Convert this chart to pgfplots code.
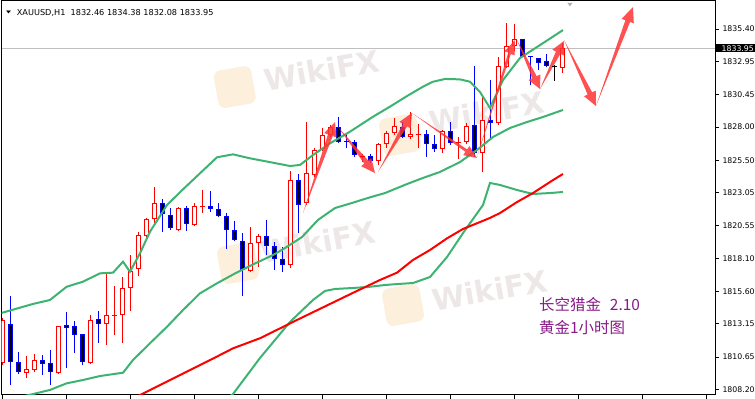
\documentclass[border=0pt]{standalone}
\usepackage{pgfplots}
\pgfplotsset{compat=1.18}
\usetikzlibrary{arrows.meta}
\usepackage{fontspec}
\setmainfont{DejaVu Sans}
\newfontfamily\cjk{Noto Sans CJK SC}
\definecolor{bandgreen}{RGB}{60,179,113}
\definecolor{mared}{RGB}{255,0,0}
\definecolor{bullred}{RGB}{255,0,0}
\definecolor{bearblue}{RGB}{0,0,255}
\definecolor{arrowred}{RGB}{255,50,50}
\definecolor{cnpurple}{RGB}{136,26,136}
\definecolor{wmgray}{RGB}{150,115,115}
\definecolor{wmorange}{RGB}{245,195,120}

\newcommand\bull[5]{%
 \addplot[bullred, line width=1bp] coordinates {(#1,#4) (#1,#3)};
 \addplot[bullred, line width=5bp] coordinates {(#1,#2) (#1,#5)};
 \addplot[white, line width=3bp, shorten <=1bp, shorten >=1bp] coordinates {(#1,#2) (#1,#5)};
}
\newcommand\bear[5]{%
 \addplot[bearblue, line width=1bp] coordinates {(#1,#4) (#1,#3)};
 \addplot[bearblue, line width=5bp] coordinates {(#1,#2) (#1,#5)};
 \addplot[black, line width=3bp, shorten <=1bp, shorten >=1bp] coordinates {(#1,#2) (#1,#5)};
}
\newcommand\doji[6]{%
 \addplot[#1, line width=1bp] coordinates {(#2,#5) (#2,#4)};
 \addplot[#1, only marks, mark=-, mark size=2.5bp, line width=1bp] coordinates {(#2,#3)};
}

\begin{document}
\begin{tikzpicture}
\useasboundingbox (-1.5bp,-4bp) rectangle (753.5bp,395bp);
\begin{axis}[
 at={(0,0)}, anchor=south west,
 scale only axis, width=713.5bp, height=394bp,
 xmin=-0.1, xmax=89.09, ymin=1807.778, ymax=1837.514,
 axis line style={black, line width=1bp},
 xtick={0,8,...,88}, xticklabels={},
 xtick pos=left, ytick pos=right, yticklabel pos=right,
 ytick={1808.20,1810.65,1813.15,1815.60,1818.10,1820.55,1823.05,1825.50,1828.00,1830.45,1832.95,1835.40},
 scaled y ticks=false,
 tick align=outside, major tick length=4bp,
 tick style={black, line width=0.8bp},
 /pgf/number format/fixed, /pgf/number format/fixed zerofill,
 /pgf/number format/precision=2, /pgf/number format/1000 sep={},
 /pgf/number format/assume math mode=true,
 yticklabel style={font=\fontsize{7.8}{9}\selectfont, text=black},
 extra y ticks={1833.95},
 extra y tick style={major tick length=0pt, yticklabel style={fill=black, text=white, inner xsep=6.5bp, inner ysep=1bp}},
]
% watermark
\node[rotate=10, fill=wmorange, fill opacity=0.25, rounded corners=7bp, minimum size=38bp, inner sep=0] at (axis cs:29.06,1831.02) {};
\node[rotate=10, fill=wmorange, fill opacity=0.25, rounded corners=7bp, minimum size=38bp, inner sep=0] at (axis cs:29.46,1817.74) {};
\node[rotate=10, fill=wmorange, fill opacity=0.25, rounded corners=7bp, minimum size=38bp, inner sep=0] at (axis cs:49.71,1827.40) {};
\node[rotate=10, fill=wmorange, fill opacity=0.25, rounded corners=7bp, minimum size=38bp, inner sep=0] at (axis cs:50.09,1814.57) {};
\node[rotate=10, text=wmgray, text opacity=0.17, font=\fontsize{30}{30}\bfseries\selectfont] at (axis cs:39.96,1832.30) {WikiFX};
\node[rotate=10, text=wmgray, text opacity=0.17, font=\fontsize{30}{30}\bfseries\selectfont] at (axis cs:39.46,1819.33) {WikiFX};
\node[rotate=10, text=wmgray, text opacity=0.17, font=\fontsize{30}{30}\bfseries\selectfont] at (axis cs:60.59,1829.14) {WikiFX};
\node[rotate=10, text=wmgray, text opacity=0.17, font=\fontsize{30}{30}\bfseries\selectfont] at (axis cs:60.96,1815.70) {WikiFX};

% current price line
\addplot[gray!50, line width=1bp] coordinates {(-0.1,1833.95) (89.09,1833.95)};

% candles: k, open, high, low, close
\bull{0}{1810.19}{1813.59}{1810.04}{1813.44}
\bear{1}{1813.14}{1815.25}{1808.53}{1810.27}
\bear{2}{1810.27}{1811.02}{1809.36}{1809.51}
\bull{3}{1809.44}{1810.72}{1809.06}{1809.74}
\bull{4}{1809.67}{1810.87}{1809.51}{1810.42}
\bear{5}{1810.42}{1810.80}{1809.29}{1810.12}
\bear{6}{1810.19}{1811.17}{1808.53}{1809.51}
\bull{7}{1809.44}{1812.99}{1809.36}{1812.99}
\bear{8}{1813.06}{1814.04}{1809.82}{1812.83}
\bear{9}{1812.99}{1813.36}{1810.95}{1812.31}
\bear{10}{1812.38}{1812.38}{1810.04}{1810.27}
\bull{11}{1810.19}{1813.82}{1810.12}{1813.44}
\bear{12}{1813.51}{1814.12}{1811.70}{1813.14}
\bull{13}{1813.14}{1816.99}{1811.55}{1813.82}
\doji{bullred}{14}{1813.80}{1816.01}{1812.31}{1813.80}
\bull{15}{1813.82}{1816.68}{1811.70}{1815.85}
\bull{16}{1815.85}{1818.34}{1814.12}{1817.14}
\bull{17}{1817.29}{1820.08}{1816.76}{1819.85}
\bull{18}{1819.78}{1821.14}{1819.40}{1821.06}
\bull{19}{1821.06}{1823.48}{1820.61}{1822.27}
\bear{20}{1822.27}{1822.57}{1820.08}{1821.44}
\bear{21}{1821.36}{1821.89}{1820.23}{1820.38}
\bull{22}{1820.23}{1821.97}{1820.16}{1821.89}
\bear{23}{1821.89}{1822.04}{1820.16}{1820.68}
\bull{24}{1820.61}{1822.27}{1820.53}{1822.04}
\doji{bullred}{25}{1822.02}{1823.25}{1821.51}{1822.02}
\bear{26}{1822.04}{1823.17}{1821.59}{1821.78}
\bear{27}{1821.78}{1822.27}{1821.21}{1821.29}
\bear{28}{1821.29}{1821.51}{1818.80}{1820.23}
\bear{29}{1820.23}{1820.91}{1819.40}{1819.48}
\bear{30}{1819.40}{1820.00}{1815.25}{1817.21}
\bull{31}{1817.14}{1820.46}{1817.06}{1819.25}
\bull{32}{1819.25}{1819.93}{1817.44}{1819.78}
\bear{33}{1819.78}{1820.99}{1818.34}{1819.02}
\bear{34}{1819.02}{1819.33}{1817.21}{1818.04}
\bear{35}{1818.04}{1818.95}{1817.06}{1817.59}
\bull{36}{1817.59}{1824.68}{1817.36}{1824.00}
\bear{37}{1824.00}{1824.46}{1820.00}{1822.12}
\bull{38}{1822.27}{1828.38}{1822.12}{1824.53}
\bull{39}{1824.38}{1826.42}{1824.23}{1826.27}
\bull{40}{1826.34}{1827.93}{1826.19}{1827.40}
\bull{41}{1827.40}{1828.16}{1827.25}{1828.00}
\bear{42}{1828.00}{1828.76}{1826.80}{1826.87}
\doji{bearblue}{43}{1826.89}{1827.40}{1826.42}{1826.89}
\bear{44}{1826.87}{1827.02}{1825.74}{1825.89}
\doji{bullred}{45}{1825.76}{1825.97}{1825.36}{1825.76}
\bear{46}{1825.82}{1825.97}{1825.29}{1825.44}
\bull{47}{1825.44}{1826.80}{1825.14}{1826.72}
\bull{48}{1826.72}{1827.70}{1826.42}{1827.55}
\bull{49}{1827.55}{1828.68}{1827.40}{1828.08}
\bear{50}{1828.00}{1828.38}{1827.17}{1827.25}
\bull{51}{1827.25}{1829.14}{1827.10}{1827.48}
\doji{bullred}{52}{1827.46}{1828.23}{1826.42}{1827.46}
\bear{53}{1827.48}{1827.78}{1825.74}{1826.72}
\bear{54}{1826.72}{1827.40}{1826.12}{1826.34}
\bull{55}{1826.34}{1827.78}{1826.04}{1827.70}
\bear{56}{1827.70}{1828.38}{1826.65}{1826.80}
\doji{bullred}{57}{1826.85}{1827.25}{1825.59}{1826.85}
\bull{58}{1826.87}{1828.31}{1826.72}{1828.08}
\bear{59}{1828.16}{1832.61}{1825.74}{1826.04}
\bull{60}{1826.04}{1830.42}{1824.61}{1828.53}
\bear{61}{1828.53}{1831.55}{1827.17}{1828.31}
\bull{62}{1828.31}{1833.29}{1828.16}{1832.61}
\bull{63}{1832.53}{1835.85}{1832.46}{1834.12}
\bull{64}{1834.12}{1835.78}{1833.74}{1834.65}
\bear{65}{1834.65}{1834.65}{1833.29}{1833.29}
\doji{bearblue}{66}{1833.29}{1833.36}{1831.17}{1833.29}
\bear{67}{1833.21}{1833.21}{1832.31}{1832.83}
\bear{68}{1832.99}{1833.51}{1832.53}{1832.61}
\doji{black}{69}{1832.57}{1832.68}{1831.48}{1832.57}
\bull{70}{1832.46}{1834.38}{1832.08}{1833.95}

% Bollinger bands
\addplot[bandgreen, line width=2bp] coordinates {
(-0.1,1813.97) (3.84,1814.65) (5.96,1814.95) (8.05,1815.95) (10.09,1816.33) (12.21,1816.96)
(13.84,1817.01) (15.09,1817.84) (15.96,1817.08) (17.21,1818.47) (18.46,1820.10) (20.59,1822.12)
(22.59,1823.30) (24.71,1824.51) (26.84,1825.72) (28.84,1825.94) (30.96,1825.64) (33.84,1825.31)
(35.96,1825.06) (37.21,1825.14) (38.84,1825.89) (40.96,1826.77) (43.46,1827.65) (46.34,1828.78)
(48.46,1829.54) (50.59,1830.34) (52.59,1831.05) (53.84,1831.42) (55.34,1831.63) (57.21,1831.60)
(58.46,1831.42) (59.71,1830.65) (60.96,1829.44) (62.59,1831.55) (64.71,1833.21) (66.84,1834.04)
(70.09,1835.32)};
\addplot[bandgreen, line width=2bp] coordinates {
(-0.1,1807.29) (3.84,1807.85) (5.96,1808.16) (8.05,1808.66) (10.09,1808.91) (12.21,1809.21)
(15.09,1809.46) (16.34,1810.42) (18.46,1811.68) (20.59,1812.93) (22.59,1814.19) (24.71,1815.45)
(26.84,1816.21) (29.21,1816.99) (31.46,1817.67) (33.84,1818.34) (35.34,1818.87) (37.46,1819.70)
(39.46,1820.99) (41.59,1821.89) (43.71,1822.27) (45.71,1822.65) (47.84,1823.02) (50.59,1823.70)
(52.59,1824.16) (54.71,1824.61) (57.21,1825.36) (59.34,1826.27) (61.34,1827.25) (63.46,1827.93)
(65.59,1828.38) (67.59,1828.76) (70.09,1829.29)};
\addplot[bandgreen, line width=2bp] coordinates {
(27.96,1807.48) (28.84,1807.85) (32.21,1810.57) (35.96,1813.29) (38.84,1814.95) (40.34,1815.63)
(41.59,1815.78) (43.71,1815.85) (45.71,1815.93) (47.84,1816.08) (49.34,1816.15) (51.34,1816.23)
(53.46,1816.68) (55.59,1818.19) (57.59,1820.00) (60.09,1822.12) (60.96,1823.78) (62.21,1823.63)
(64.34,1823.25) (66.34,1822.95) (68.46,1823.02) (70.09,1823.10)};
% moving average
\addplot[mared, line width=2bp] coordinates {
(15.96,1807.40) (20.55,1808.78) (24.71,1810.04) (26.80,1810.67) (28.84,1811.30) (32.21,1812.06)
(37.21,1813.55) (43.71,1815.45) (47.21,1816.46) (49.34,1817.01) (51.34,1817.97) (53.46,1818.72)
(55.59,1819.60) (57.59,1820.31) (59.71,1820.83) (60.96,1821.14) (62.21,1821.51) (64.34,1822.34)
(66.34,1823.02) (68.84,1824.00) (70.09,1824.46)};

% tapered arrows (filled outlines)
\pgfplotsset{arr/.style={fill=arrowred, draw=none, fill opacity=0.85}}
\addplot[arr] coordinates {(37.588,1821.514) (41.302,1827.322) (41.774,1827.222) (41.588,1828.382) (40.241,1827.547) (40.712,1827.447)} -- cycle;
\addplot[arr] coordinates {(41.963,1828.004) (45.247,1825.238) (44.858,1825.049) (46.588,1824.533) (46.124,1825.664) (45.734,1825.475)} -- cycle;
\addplot[arr] coordinates {(46.963,1824.608) (50.610,1828.051) (51.043,1827.900) (51.213,1829.061) (49.635,1828.390) (50.068,1828.240)} -- cycle;
\addplot[arr] coordinates {(51.213,1829.061) (57.895,1826.130) (57.610,1825.882) (59.338,1825.665) (58.393,1826.564) (58.108,1826.316)} -- cycle;
\addplot[arr] coordinates {(59.338,1825.740) (63.557,1833.507) (64.032,1833.414) (64.088,1834.570) (62.774,1833.717) (63.250,1833.624)} -- cycle;
\addplot[arr] coordinates {(64.338,1834.570) (66.239,1831.680) (65.787,1831.552) (67.213,1830.872) (67.258,1831.969) (66.805,1831.840)} -- cycle;
\addplot[arr] coordinates {(67.213,1830.872) (69.765,1833.533) (70.213,1833.398) (70.213,1834.495) (68.759,1833.837) (69.206,1833.702)} -- cycle;
\addplot[arr] coordinates {(70.213,1834.570) (73.168,1830.458) (72.718,1830.326) (74.213,1829.589) (74.180,1830.754) (73.730,1830.622)} -- cycle;
\addplot[arr] coordinates {(74.213,1829.589) (78.474,1835.934) (78.942,1835.829) (78.838,1837.061) (77.420,1836.172) (77.888,1836.066)} -- cycle;

% texts
\node[inner sep=0, text=gray!60, font=\fontsize{7}{7}\selectfont] at (axis cs:70.96,1837.2) {\scalebox{1}[0.7]{▼}};
\node[inner sep=0, font=\fontsize{6.5}{7}\selectfont] at (axis cs:0.8,1836.68) {\scalebox{1}[0.6]{▼}};
\node[anchor=base west, inner sep=0, font=\fontsize{8.2}{9}\selectfont] at (axis cs:1.8,1836.43) {XAUUSD,H1\ \ 1832.46 1834.38 1832.08 1833.95};
\node[anchor=base west, inner sep=0, text=cnpurple, font=\cjk\fontsize{15.5}{18}\selectfont] at (axis cs:67.09,1814.16) {长空猎金\hspace{9bp}2.10};
\node[anchor=base west, inner sep=0, text=cnpurple, font=\cjk\fontsize{15.5}{18}\selectfont] at (axis cs:67.09,1812.42) {黄金1小时图};
\end{axis}
\end{tikzpicture}
\end{document}
